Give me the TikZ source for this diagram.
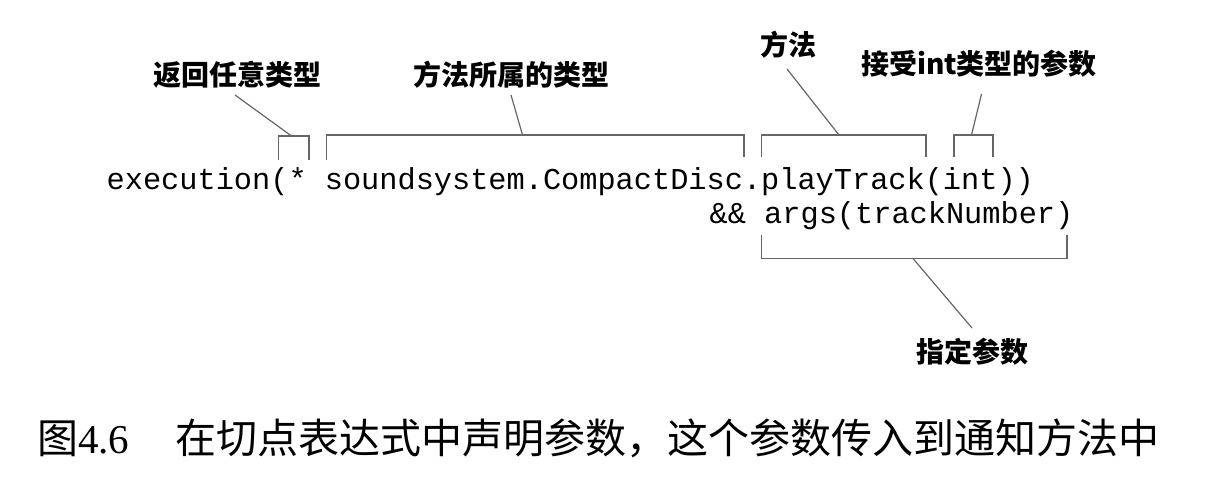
\documentclass[tikz,border=0pt]{standalone}
\usepackage{fontspec}
\setmainfont{Liberation Serif}
\setmonofont{Liberation Mono}
\newfontfamily\cjk{Noto Sans CJK SC}
\begin{document}
\begin{tikzpicture}[x=1pt,y=-1pt,
  codetext/.style={inner sep=0pt,anchor=base west,font=\ttfamily\fontsize{30.3}{34}\selectfont},
  lbl/.style={inner sep=0pt,anchor=center,font=\cjk\bfseries\fontsize{28}{30}\selectfont},
  brk/.style={draw=black!60,line width=1.4pt},
  lead/.style={draw=black!60,line width=1.2pt}]
\useasboundingbox (0,0) rectangle (1210,484);
\fill[white] (0,0) rectangle (1210,484);
% code
\node[codetext] (code1) at (106.5,189) {execution(* soundsystem.CompactDisc.playTrack(int))};
\node[codetext] (code2) at (709.5,223) {\&\& args(trackNumber)};
% labels
\node[lbl] (lab1) at (237,74.5) {返回任意类型};
\node[lbl] (lab2) at (511.5,74.5) {方法所属的类型};
\node[lbl] (lab3) at (788,45) {方法};
\node[lbl] (lab4) at (979,63.5) {接受int类型的参数};
\node[lbl] (lab5) at (972.5,351.5) {指定参数};
% bracket coordinates
\coordinate (b1l) at (278.5,160); \coordinate (b1r) at (309,160);
\coordinate (b2l) at (326.5,160); \coordinate (b2r) at (744,157);
\coordinate (b3l) at (761.5,157); \coordinate (b3r) at (926,157);
\coordinate (b4l) at (954,157);  \coordinate (b4r) at (993,157);
\coordinate (b5l) at (761.5,235); \coordinate (b5r) at (1067,235);
\draw[brk] (b1l) -- (278.5,136) -- (309,136) -- (b1r);
\draw[brk] (b2l) -- (326.5,135) -- (744,135) -- (b2r);
\draw[brk] (b3l) -- (761.5,135) -- (926,135) -- (b3r);
\draw[brk] (b4l) -- (954,135) -- (993,135) -- (b4r);
\draw[brk] (b5l) -- (761.5,258.5) -- (1067,258.5) -- (b5r);
% leader coordinates
\coordinate (t1) at (291.5,136); \coordinate (s1) at (235,95);
\coordinate (t2) at (522.5,135); \coordinate (s2) at (511,95);
\coordinate (t3) at (839,135);   \coordinate (s3) at (787,69);
\coordinate (t4) at (971.5,135); \coordinate (s4) at (981.5,94);
\coordinate (t5) at (913,258.5); \coordinate (s5) at (972,328);
\draw[lead] (s1) -- (t1);
\draw[lead] (s2) -- (t2);
\draw[lead] (s3) -- (t3);
\draw[lead] (s4) -- (t4);
\draw[lead] (t5) -- (s5);
% caption
\node[inner sep=0pt,anchor=base west] (capnum) at (37,453) {\fontsize{41}{44}\selectfont{\cjk 图}4.6};
\node[inner sep=0pt,anchor=base west] (captext) at (175,453) {\cjk\fontsize{41}{44}\selectfont 在切点表达式中声明参数，这个参数传入到通知方法中};
\end{tikzpicture}
\end{document}
